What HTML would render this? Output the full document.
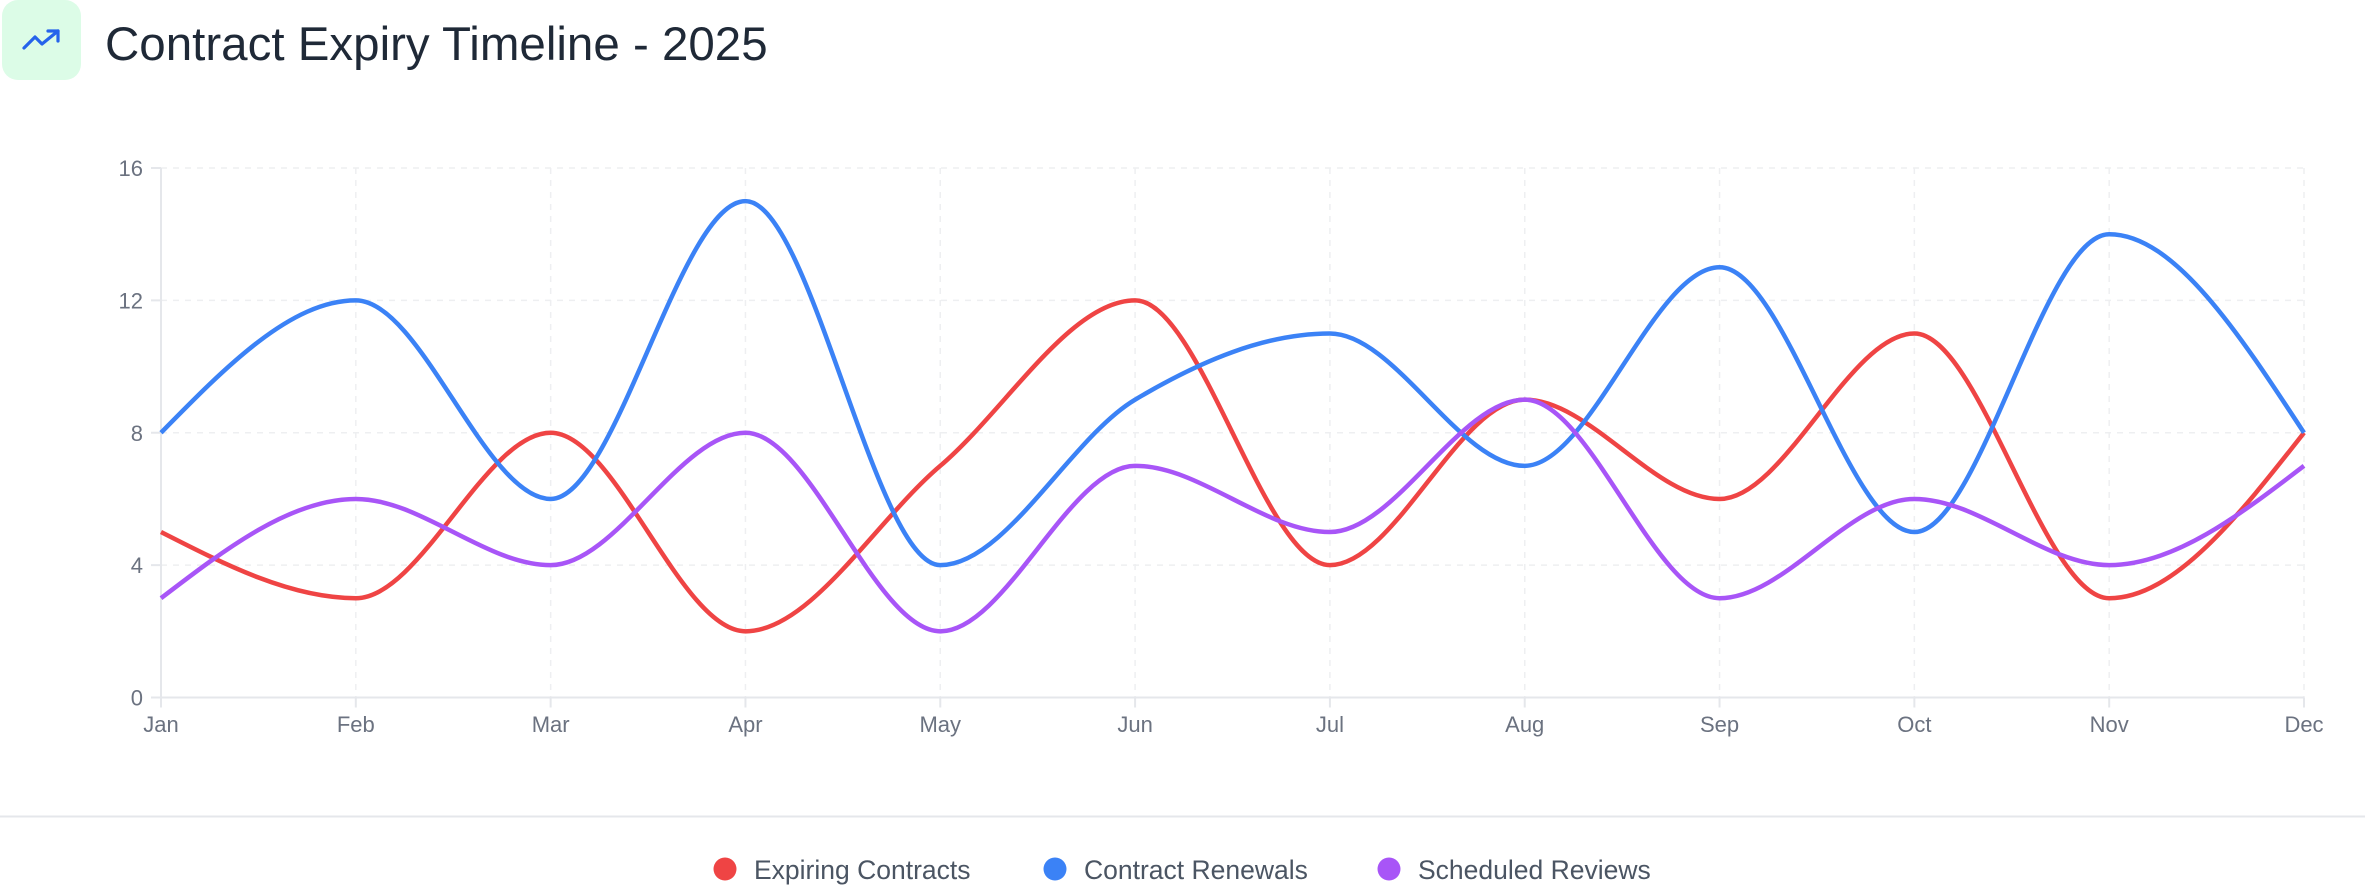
<!DOCTYPE html>
<html><head><meta charset="utf-8"><style>
html,body{margin:0;padding:0;background:#fff;width:2365px;height:890px;overflow:hidden}
body{font-family:"Liberation Sans",sans-serif}
</style></head><body>
<svg id="s" width="2365" height="890" xmlns="http://www.w3.org/2000/svg" style="position:absolute;left:0;top:0">
<rect x="2" y="0" width="79" height="80" rx="16" fill="#dcfce7"/>
<g fill="none" stroke="#2563eb" stroke-width="3.2" stroke-linecap="round" stroke-linejoin="round">
<polyline points="24,48 35,37 42,44 58,31"/><polyline points="48,31 58,31 58,41"/></g>
<text x="105" y="60" font-size="47.5" fill="#1f2937" font-family="Liberation Sans, sans-serif">Contract Expiry Timeline - 2025</text>
<line x1="0" y1="816.5" x2="2365" y2="816.5" stroke="#e5e7eb" stroke-width="2"/>
<g id="g"></g>
<g font-size="26.5" fill="#4b5563">
<circle cx="725" cy="869" r="11.5" fill="#ef4444"/><text x="754" y="879">Expiring Contracts</text>
<circle cx="1055" cy="869" r="11.5" fill="#3b82f6"/><text x="1084" y="879">Contract Renewals</text>
<circle cx="1389" cy="869" r="11.5" fill="#a855f7"/><text x="1418" y="879">Scheduled Reviews</text>
</g>
</svg>
<script>
var L=161,R=2304,Y0=697.5,Y16=168,g=document.getElementById('g');
function X(i){return L+(R-L)*i/11}function Y(v){return Y0-(Y0-Y16)*v/16}
var h='';
for(var v=4;v<=16;v+=4)h+='<line x1="'+L+'" x2="'+R+'" y1="'+Y(v)+'" y2="'+Y(v)+'" stroke="#eeeff1" stroke-width="1.5" stroke-dasharray="6 6"/>';
for(var i=1;i<12;i++)h+='<line x1="'+X(i)+'" x2="'+X(i)+'" y1="'+Y16+'" y2="'+Y0+'" stroke="#eeeff1" stroke-width="1.5" stroke-dasharray="6 6"/>';
h+='<line x1="'+L+'" x2="'+L+'" y1="'+Y16+'" y2="'+(Y0+10)+'" stroke="#e5e7eb" stroke-width="2"/>';
h+='<line x1="'+(L-10)+'" x2="'+R+'" y1="'+Y0+'" y2="'+Y0+'" stroke="#e5e7eb" stroke-width="2"/>';
for(var v=0;v<=16;v+=4)h+='<line x1="'+(L-10)+'" x2="'+L+'" y1="'+Y(v)+'" y2="'+Y(v)+'" stroke="#e5e7eb" stroke-width="2"/><text x="'+(L-18)+'" y="'+(Y(v)+8)+'" text-anchor="end" font-size="22" fill="#6b7280">'+v+'</text>';
var m=['Jan','Feb','Mar','Apr','May','Jun','Jul','Aug','Sep','Oct','Nov','Dec'];
for(var i=0;i<12;i++)h+='<line x1="'+X(i)+'" x2="'+X(i)+'" y1="'+Y0+'" y2="'+(Y0+10)+'" stroke="#e5e7eb" stroke-width="2"/><text x="'+X(i)+'" y="732" text-anchor="middle" font-size="22" fill="#6b7280">'+m[i]+'</text>';
function mono(d){var n=d.length,xs=[],ys=[],s=[],t=[];for(var i=0;i<n;i++){xs.push(X(i));ys.push(Y(d[i]))}
for(var i=0;i<n-1;i++)s.push((ys[i+1]-ys[i])/(xs[i+1]-xs[i]));
for(var i=0;i<n;i++){if(i==0||i==n-1)t.push(null);else{var h0=xs[i]-xs[i-1],h1=xs[i+1]-xs[i],s0=s[i-1],s1=s[i],p=(s0*h1+s1*h0)/(h0+h1);t.push((Math.sign(s0)+Math.sign(s1))*Math.min(Math.abs(s0),Math.abs(s1),0.5*Math.abs(p))||0);}}
t[0]=(3*s[0]-t[1])/2;t[n-1]=(3*s[n-2]-t[n-2])/2;
var p='M'+xs[0]+','+ys[0];for(var i=0;i<n-1;i++){var dx=(xs[i+1]-xs[i])/3;p+='C'+(xs[i]+dx)+','+(ys[i]+dx*t[i])+' '+(xs[i+1]-dx)+','+(ys[i+1]-dx*t[i+1])+' '+xs[i+1]+','+ys[i+1];}return p}
var S=[[[5,3,8,2,7,12,4,9,6,11,3,8],'#ef4444'],[[8,12,6,15,4,9,11,7,13,5,14,8],'#3b82f6'],[[3,6,4,8,2,7,5,9,3,6,4,7],'#a855f7']];
S.forEach(function(q){h+='<path d="'+mono(q[0])+'" fill="none" stroke="'+q[1]+'" stroke-width="4.5"/>'});
g.innerHTML=h;
</script>
</body></html>
